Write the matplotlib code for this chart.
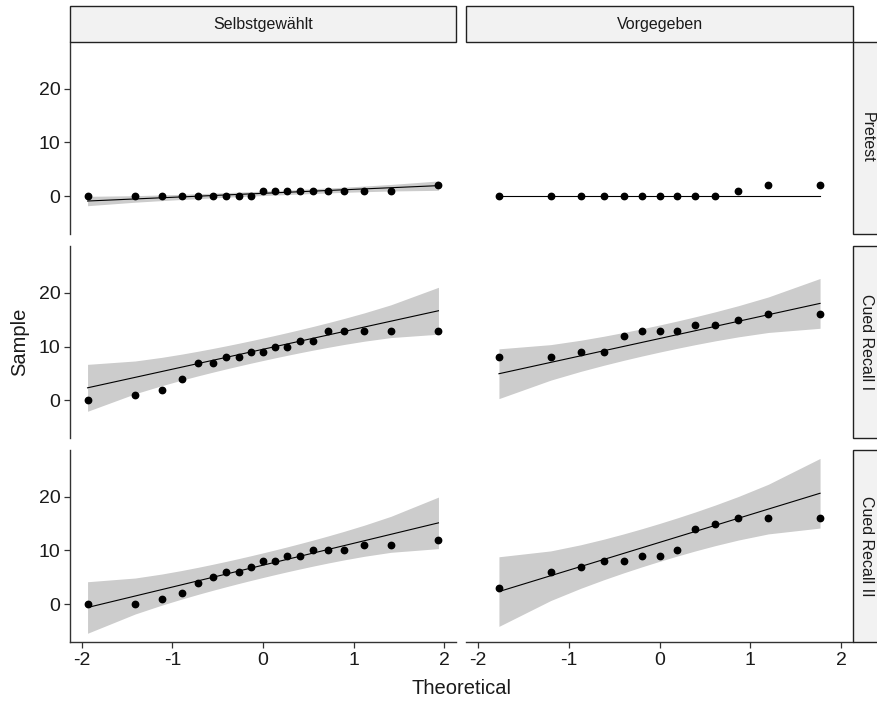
import numpy as np
import matplotlib
matplotlib.use("Agg")
import matplotlib.pyplot as plt
from matplotlib.patches import Rectangle
from statistics import NormalDist

plt.rcParams['font.family'] = ['Liberation Sans', 'DejaVu Sans']

# facet labels
col_labels = ["Selbstgewählt", "Vorgegeben"]
row_labels = ["Pretest", "Cued Recall I", "Cued Recall II"]

# sample values (sorted)
selbst_pretest = [0, 0, 0, 0, 0, 0, 0, 0, 0, 1, 1, 1, 1, 1, 1, 1, 1, 1, 2]
selbst_recall1 = [0, 1, 2, 4, 7, 7, 8, 8, 9, 9, 10, 10, 11, 11, 13, 13, 13, 13, 13]
selbst_recall2 = [0, 0, 1, 2, 4, 5, 6, 6, 7, 8, 8, 9, 9, 10, 10, 10, 11, 11, 12]
vorg_pretest = [0, 0, 0, 0, 0, 0, 0, 0, 0, 0, 1, 2, 2]
vorg_recall1 = [8, 8, 9, 9, 12, 13, 13, 13, 14, 14, 15, 16, 16]
vorg_recall2 = [3, 6, 7, 8, 8, 9, 9, 10, 14, 15, 16, 16, 16]

panels = [[selbst_pretest, vorg_pretest],
          [selbst_recall1, vorg_recall1],
          [selbst_recall2, vorg_recall2]]

nd = NormalDist()


def qq_stats(sample, conf=0.95):
    y = np.sort(np.asarray(sample, dtype=float))
    n = len(y)
    a = 3 / 8 if n <= 10 else 0.5
    P = (np.arange(1, n + 1) - a) / (n + 1 - 2 * a)
    z = np.array([nd.inv_cdf(p) for p in P])
    q = np.quantile(y, [0.25, 0.75])
    xq = np.array([nd.inv_cdf(0.25), nd.inv_cdf(0.75)])
    slope = (q[1] - q[0]) / (xq[1] - xq[0])
    inter = q[0] - slope * xq[0]
    fit = inter + slope * z
    zz = nd.inv_cdf(1 - (1 - conf) / 2)
    dens = np.array([nd.pdf(v) for v in z])
    se = slope / dens * np.sqrt(P * (1 - P) / n)
    return z, y, fit, fit - zz * se, fit + zz * se


stats = [[qq_stats(s) for s in row] for row in panels]

# shared scales with 5% expansion (like ggplot)
all_z = np.concatenate([s[0] for row in stats for s in row])
all_y = np.concatenate([np.concatenate([s[1], s[3], s[4]]) for row in stats for s in row])
xr = all_z.max() - all_z.min()
yr = all_y.max() - all_y.min()
xlim = (all_z.min() - 0.05 * xr, all_z.max() + 0.05 * xr)
ylim = (all_y.min() - 0.05 * yr, all_y.max() + 0.05 * yr)

W, H = 877, 703
fig = plt.figure(figsize=(W / 100, H / 100), dpi=100)

col_x = [(70, 456), (466, 853)]
row_y = [(41.7, 234), (245.7, 438.3), (449.7, 642)]

for r in range(3):
    for c in range(2):
        x0, x1 = col_x[c]
        y0, y1 = row_y[r]
        ax = fig.add_axes([x0 / W, (H - y1) / H, (x1 - x0) / W, (y1 - y0) / H])
        z, y, fit, lo, hi = stats[r][c]
        ax.fill_between(z, lo, hi, color='#cccccc', lw=0, zorder=1)
        ax.plot(z, fit, color='black', lw=0.8, zorder=2)
        ax.plot(z, y, 'o', color='black', ms=4.6, zorder=3)
        ax.set_xlim(xlim)
        ax.set_ylim(ylim)
        ax.set_yticks([0, 10, 20])
        ax.set_xticks([-2, -1, 0, 1, 2])
        for side in ['top', 'right']:
            ax.spines[side].set_visible(False)
        ax.spines['left'].set_visible(c == 0)
        ax.spines['bottom'].set_visible(r == 2)
        for side in ['left', 'bottom']:
            ax.spines[side].set_color('#333333')
            ax.spines[side].set_linewidth(1.0)
        ax.tick_params(axis='both', length=4, width=0.9, color='#333333',
                       labelsize=14, labelcolor='#1a1a1a', pad=3)
        if c != 0:
            ax.tick_params(axis='y', left=False, labelleft=False)
        if r != 2:
            ax.tick_params(axis='x', bottom=False, labelbottom=False)
        ax.set_xticklabels(['-2', '-1', '0', '1', '2'])

# top strips
for c in range(2):
    x0, x1 = col_x[c]
    rect = Rectangle((x0 / W, (H - 41.7) / H), (x1 - x0) / W, 35.7 / H,
                     transform=fig.transFigure, facecolor='#f2f2f2',
                     edgecolor='#222222', lw=1.0)
    fig.patches.append(rect)
    fig.text((x0 + x1) / 2 / W, (H - 24) / H, col_labels[c], ha='center',
             va='center', fontsize=11.5, color='#1a1a1a')

# right strips
for r in range(3):
    y0, y1 = row_y[r]
    rect = Rectangle((853 / W, (H - y1) / H), 28 / W, (y1 - y0) / H,
                     transform=fig.transFigure, facecolor='#f2f2f2',
                     edgecolor='#222222', lw=1.0)
    fig.patches.append(rect)
    fig.text(867 / W, (H - (y0 + y1) / 2) / H, row_labels[r], ha='center',
             va='center', rotation=-90, fontsize=11.5, color='#1a1a1a')

fig.text(461 / W, (H - 689) / H, "Theoretical", ha='center', va='center',
         fontsize=14.5, color='#1a1a1a')
fig.text(20 / W, (H - 342) / H, "Sample", ha='center', va='center',
         rotation=90, fontsize=14.5, color='#1a1a1a')

fig.savefig("out.png", dpi=100)
